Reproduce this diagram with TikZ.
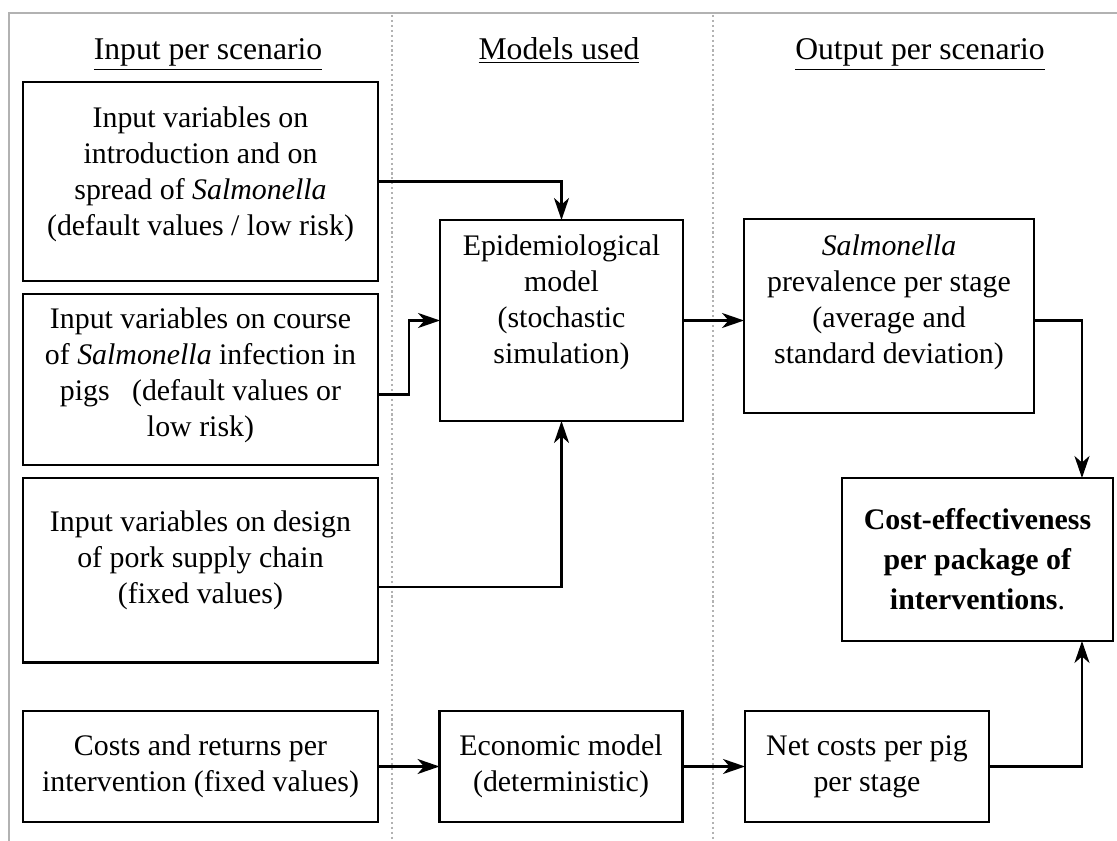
\documentclass[tikz,border=0pt]{standalone}
\usepackage{fontspec}
\setmainfont{Liberation Serif}
\usetikzlibrary{positioning,arrows.meta}
% extra depth under the last line, lifts the text in its box
\newcommand\pad[1]{\rule[-#1]{0pt}{#1}}

\begin{document}
\begin{tikzpicture}[x=0.02cm,y=-0.02cm,
    every node/.style={font=\fontsize{17}{20.5}\selectfont},
    box/.style={draw,line width=1.6pt,align=center,inner sep=0pt,outer sep=0pt},
    link/.style={line width=1.4pt,-{Stealth[length=0.44cm,width=0.3cm,inset=0.13cm]}},
    sep/.style={black!30,line width=1.2pt,dash pattern=on 1.2pt off 1.6pt},
    head/.style={anchor=base,font=\fontsize{18}{21}\selectfont}]
  \useasboundingbox (0,0) rectangle (1117,841);
  % frame and column separators
  \draw[black!30,line width=1.7pt] (1117,13) -- (9,13) -- (9,841);
  \draw[sep] (392,15) -- (392,841);
  \draw[sep] (713,15) -- (713,841);
  % column titles
  \node[head] (hin) at (208,60) {\underline{Input per scenario}};
  \node[head] (hmod) at (559,60) {\underline{Models used}};
  \node[head] (hout) at (920,60) {\underline{Output per scenario}};
  % input column
  \node[box,minimum width=7.1cm,minimum height=3.98cm] (A1) at (200.5,181.5)
    {Input variables on\\introduction and on\\spread of \textit{Salmonella}\\(default values / low risk)\pad{12pt}};
  \node[box,minimum width=7.1cm,minimum height=3.42cm,below=0.26cm of A1] (A2)
    {Input variables on course\\of \textit{Salmonella} infection in\\pigs~~ (default values or\\low risk)\pad{8pt}};
  \node[box,minimum width=7.1cm,minimum height=3.7cm,below=0.26cm of A2] (A3)
    {Input variables on design\\of pork supply chain\\(fixed values)\pad{15pt}};
  \node[box,minimum width=7.1cm,minimum height=2.22cm] (A4) at (200.5,766.5)
    {Costs and returns per\\intervention (fixed values)};
  % models
  \node[box,minimum width=4.86cm,minimum height=4.02cm] (M1) at (561.5,320.5)
    {Epidemiological\\model\\(stochastic\\simulation)\pad{24pt}};
  \node[box,minimum width=4.86cm,minimum height=2.22cm] (M2) at (561,766.5)
    {Economic model\\(deterministic)};
  % output column
  \node[box,minimum width=5.8cm,minimum height=3.88cm] (O1) at (889,316)
    {\textit{Salmonella}\\prevalence per stage\\(average and\\standard deviation)\pad{19pt}};
  \node[box,minimum width=5.42cm,minimum height=3.26cm,
    font=\fontsize{17}{22.7}\selectfont] (O2) at (977.5,559.5)
    {\textbf{Cost-effectiveness}\\\textbf{per package of}\\\textbf{interventions}.};
  \node[box,minimum width=4.88cm,minimum height=2.22cm] (O3) at (867,766.5)
    {Net costs per pig\\per stage};
  % arrows
  \draw[link] (A1.east) -| (M1.north);
  \draw[link] ([yshift=-0.3cm]A2.east) -- ++(31,0) |- (M1.west);
  \draw[link] ([yshift=-0.33cm]A3.east) -| (M1.south);
  \draw[link] (M1.east) -- (M1.east -| O1.west);
  \draw[link] (M1.east -| O1.east) -| ([xshift=2.09cm]O2.north);
  \draw[link] (A4.east) -- (M2.west);
  \draw[link] (M2.east) -- (O3.west);
  \draw[link] (O3.east) -| ([xshift=2.09cm]O2.south);
\end{tikzpicture}
\end{document}
